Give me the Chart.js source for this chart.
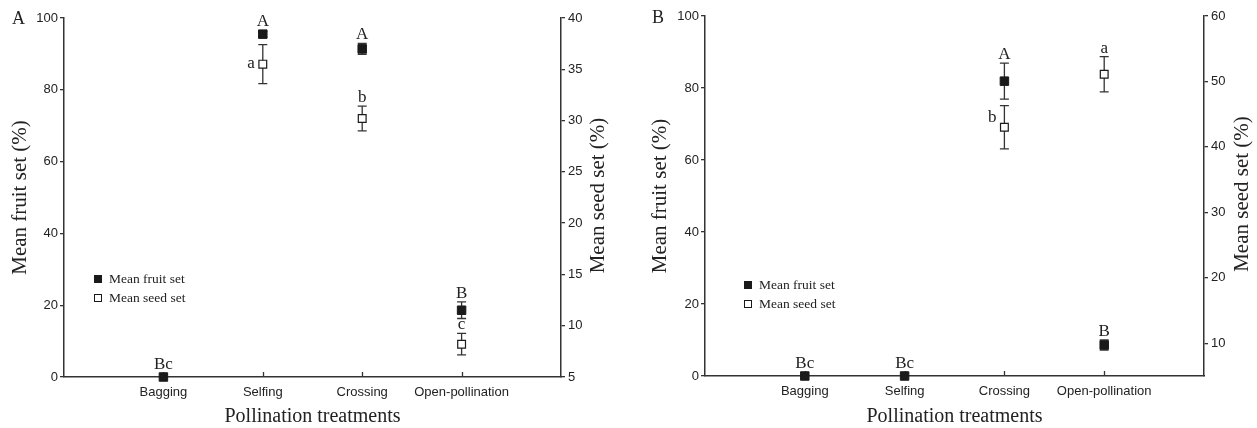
<!DOCTYPE html>
<html>
<head>
<meta charset="utf-8">
<script src="https://cdn.jsdelivr.net/npm/chart.js@4.4.0/dist/chart.umd.min.js"></script>
<style>
  html, body { margin: 0; padding: 0; background: #fff; }
  #wrap { position: relative; width: 1257px; height: 428px; }
  .panel { position: absolute; top: 0; height: 428px; }
  #panelA { left: 0; width: 628px; }
  #panelB { left: 628px; width: 629px; }
</style>
</head>
<body>
<div id="wrap">
  <div class="panel" id="panelA"><canvas id="chartA" width="628" height="428"></canvas></div>
  <div class="panel" id="panelB"><canvas id="chartB" width="629" height="428"></canvas></div>
</div>
<script>
// categories on the x axis
const treatments = ["Bagging", "Selfing", "Crossing", "Open-pollination"];
const positions = [1, 2, 3, 4];

// panel A values (fruit on left axis, seed on right axis)
const fruitA = [0, 95.5, 91.4, 18.6];
const fruitErrA = [0, 0.8, 1.5, 2.3];
const seedA = [null, 35.5, 30.2, 8.2];
const seedErrA = [0, 1.9, 1.2, 1.05];
const fruitLettersA = ["Bc", "A", "A", "B"];
const seedLettersA = ["", "a", "b", "c"];
const fruitTicksA = [0, 20, 40, 60, 80, 100];
const seedTicksA = [5, 10, 15, 20, 25, 30, 35, 40];
const seedRangeA = [5, 40];

// panel B values
const fruitB = [0, 0, 81.9, 8.6];
const fruitErrB = [0, 0, 5.0, 1.4];
const seedB = [null, null, 43.0, 51.1];
const seedErrB = [0, 0, 3.3, 2.7];
const fruitLettersB = ["Bc", "Bc", "A", "B"];
const seedLettersB = ["", "", "b", "a"];
const fruitTicksB = [0, 20, 40, 60, 80, 100];
const seedTicksB = [10, 20, 30, 40, 50, 60];
const seedRangeB = [5, 60];

// where each letter sits relative to its marker
const seedSideA = ["", "left", "above", "above"];
const seedSideB = ["", "", "upperLeft", "above"];

const SERIF = '"Liberation Serif", "Times New Roman", serif';
const SANS = '"Liberation Sans", Arial, sans-serif';
const INK = "#222";
const LINE = "#333";

function toPoints(vals) {
  return vals.map((v, i) => ({ x: positions[i], y: v }));
}

// error bars, inward x ticks, letters, legend, panel letter, right title
const decorations = {
  id: "decorations",
  beforeDatasetsDraw(chart) {
    const ctx = chart.ctx;
    const xs = chart.scales.x;
    ctx.save();
    ctx.strokeStyle = LINE;
    ctx.lineWidth = 1.3;
    // inward ticks on the x axis
    xs.ticks.forEach((t) => {
      const px = Math.round(xs.getPixelForValue(t.value)) + 0.5;
      ctx.beginPath();
      ctx.moveTo(px, chart.chartArea.bottom);
      ctx.lineTo(px, chart.chartArea.bottom - 5);
      ctx.stroke();
    });
    chart.data.datasets.forEach((ds) => {
      const ys = chart.scales[ds.yAxisID];
      ds.data.forEach((p, i) => {
        const e = ds.errors[i];
        if (p.y == null || !e) return;
        const x = xs.getPixelForValue(p.x);
        const top = ys.getPixelForValue(p.y + e);
        const bot = ys.getPixelForValue(p.y - e);
        ctx.beginPath();
        ctx.moveTo(x, top); ctx.lineTo(x, bot);
        ctx.moveTo(x - 4.5, top); ctx.lineTo(x + 4.5, top);
        ctx.moveTo(x - 4.5, bot); ctx.lineTo(x + 4.5, bot);
        ctx.stroke();
      });
    });
    ctx.restore();
  },
  afterDraw(chart, args, opts) {
    const ctx = chart.ctx;
    const xs = chart.scales.x;
    const area = chart.chartArea;
    ctx.save();
    ctx.fillStyle = INK;

    // significance letters
    ctx.font = "17px " + SERIF;
    chart.data.datasets.forEach((ds) => {
      const ys = chart.scales[ds.yAxisID];
      ds.data.forEach((p, i) => {
        const txt = ds.letters[i];
        if (!txt || p.y == null) return;
        const x = xs.getPixelForValue(p.x);
        const y = ys.getPixelForValue(p.y);
        const side = ds.letterSide ? ds.letterSide[i] : "above";
        if (side === "left" || side === "upperLeft") {
          ctx.textAlign = "right";
          ctx.textBaseline = "alphabetic";
          ctx.fillText(txt, x - 8, side === "left" ? y + 4 : y - 5);
        } else {
          const top = Math.min(ys.getPixelForValue(p.y + (ds.errors[i] || 0)), y - 4.5);
          ctx.textAlign = "center";
          ctx.textBaseline = "alphabetic";
          ctx.fillText(txt, x, top - 4);
        }
      });
    });

    // legend
    ctx.font = "13.5px " + SERIF;
    ctx.textAlign = "left";
    ctx.textBaseline = "middle";
    chart.data.datasets.forEach((ds, i) => {
      const mx = area.left + opts.legendLeft;
      const my = area.top + opts.legendTop + i * 19;
      ctx.fillStyle = ds.backgroundColor;
      ctx.fillRect(mx - 3.5, my - 3.5, 7, 7);
      ctx.strokeStyle = ds.borderColor;
      ctx.lineWidth = 1;
      ctx.strokeRect(mx - 3.5, my - 3.5, 7, 7);
      ctx.fillStyle = INK;
      ctx.fillText(ds.label, mx + 11, my + 0.5);
    });

    // panel letter
    ctx.font = "18px " + SERIF;
    ctx.textBaseline = "alphabetic";
    ctx.fillText(opts.panel, opts.panelX, opts.panelY);

    // right axis title, read bottom to top like the left one
    ctx.font = "21px " + SERIF;
    ctx.textAlign = "center";
    ctx.textBaseline = "middle";
    ctx.translate(chart.width - opts.rightTitleOffset, (area.top + area.bottom) / 2 - 2);
    ctx.rotate(-Math.PI / 2);
    ctx.fillText(opts.rightTitle, 0, 0);
    ctx.restore();
  }
};

function makeChart(id, cfg) {
  const tickFont = { family: SANS, size: 13 };
  const titleFont = { family: SERIF, size: 21 };
  return new Chart(document.getElementById(id), {
    type: "scatter",
    data: {
      datasets: [
        {
          label: "Mean fruit set",
          data: toPoints(cfg.fruit),
          errors: cfg.fruitErr,
          letters: cfg.fruitLetters,
          yAxisID: "y",
          pointStyle: "rect",
          pointRadius: 6,
          backgroundColor: "#1a1a1a",
          borderColor: "#1a1a1a",
          borderWidth: 1,
          clip: false
        },
        {
          label: "Mean seed set",
          data: toPoints(cfg.seed),
          errors: cfg.seedErr,
          letters: cfg.seedLetters,
          letterSide: cfg.seedSide,
          yAxisID: "y2",
          pointStyle: "rect",
          pointRadius: 5.5,
          backgroundColor: "#ffffff",
          borderColor: "#1a1a1a",
          borderWidth: 1.2,
          clip: false
        }
      ]
    },
    options: {
      responsive: false,
      animation: false,
      devicePixelRatio: 1,
      layout: { padding: { top: cfg.top, left: 0, right: 0, bottom: 0 } },
      plugins: {
        legend: { display: false },
        tooltip: { enabled: false },
        decorations: cfg.deco
      },
      scales: {
        x: {
          type: "linear",
          min: 0,
          max: 5,
          afterBuildTicks: (axis) => { axis.ticks = positions.map((v) => ({ value: v })); },
          afterFit: (axis) => { axis.height = cfg.xHeight; },
          ticks: {
            font: tickFont,
            color: INK,
            padding: 8,
            maxRotation: 0,
            autoSkip: false,
            callback: (v, i) => treatments[i]
          },
          grid: { drawOnChartArea: false, drawTicks: false },
          border: { display: true, color: LINE, width: 1.5 },
          title: {
            display: true,
            text: "Pollination treatments",
            font: { family: SERIF, size: 20, lineHeight: 1.15 },
            color: INK,
            padding: { top: 0, bottom: 0 }
          }
        },
        y: {
          position: "left",
          min: 0,
          max: 100,
          afterBuildTicks: (axis) => { axis.ticks = cfg.fruitTicks.map((v) => ({ value: v })); },
          afterFit: (axis) => { axis.width = cfg.leftWidth; },
          ticks: { font: tickFont, color: INK, padding: 2 },
          grid: { drawOnChartArea: false, tickLength: 4, color: LINE, lineWidth: 1.3 },
          border: { display: true, color: LINE, width: 1.5 },
          title: {
            display: true,
            text: "Mean fruit set (%)",
            font: titleFont,
            color: INK,
            padding: { top: cfg.leftTitlePad, bottom: 0 }
          }
        },
        y2: {
          position: "right",
          min: cfg.seedRange[0],
          max: cfg.seedRange[1],
          afterBuildTicks: (axis) => { axis.ticks = cfg.seedTicks.map((v) => ({ value: v })); },
          afterFit: (axis) => { axis.width = cfg.rightWidth; },
          ticks: { font: tickFont, color: INK, padding: 3 },
          grid: { drawOnChartArea: false, tickLength: 4, color: LINE, lineWidth: 1.3 },
          border: { display: true, color: LINE, width: 1.5 },
          title: { display: false }
        }
      }
    },
    plugins: [decorations]
  });
}

makeChart("chartA", {
  fruit: fruitA, fruitErr: fruitErrA, fruitLetters: fruitLettersA,
  seed: seedA, seedErr: seedErrA, seedLetters: seedLettersA, seedSide: seedSideA,
  fruitTicks: fruitTicksA, seedTicks: seedTicksA, seedRange: seedRangeA,
  top: 18, xHeight: 51, leftWidth: 64, rightWidth: 67,
  leftTitlePad: 8,
  deco: { legendLeft: 34, legendTop: 261, panel: "A", panelX: 12, panelY: 24,
          rightTitle: "Mean seed set (%)", rightTitleOffset: 30 }
});

makeChart("chartB", {
  fruit: fruitB, fruitErr: fruitErrB, fruitLetters: fruitLettersB,
  seed: seedB, seedErr: seedErrB, seedLetters: seedLettersB, seedSide: seedSideB,
  fruitTicks: fruitTicksB, seedTicks: seedTicksB, seedRange: seedRangeB,
  top: 16, xHeight: 52, leftWidth: 77, rightWidth: 53,
  leftTitlePad: 20,
  deco: { legendLeft: 43, legendTop: 269, panel: "B", panelX: 24, panelY: 23,
          rightTitle: "Mean seed set (%)", rightTitleOffset: 15 }
});
</script>
</body>
</html>
